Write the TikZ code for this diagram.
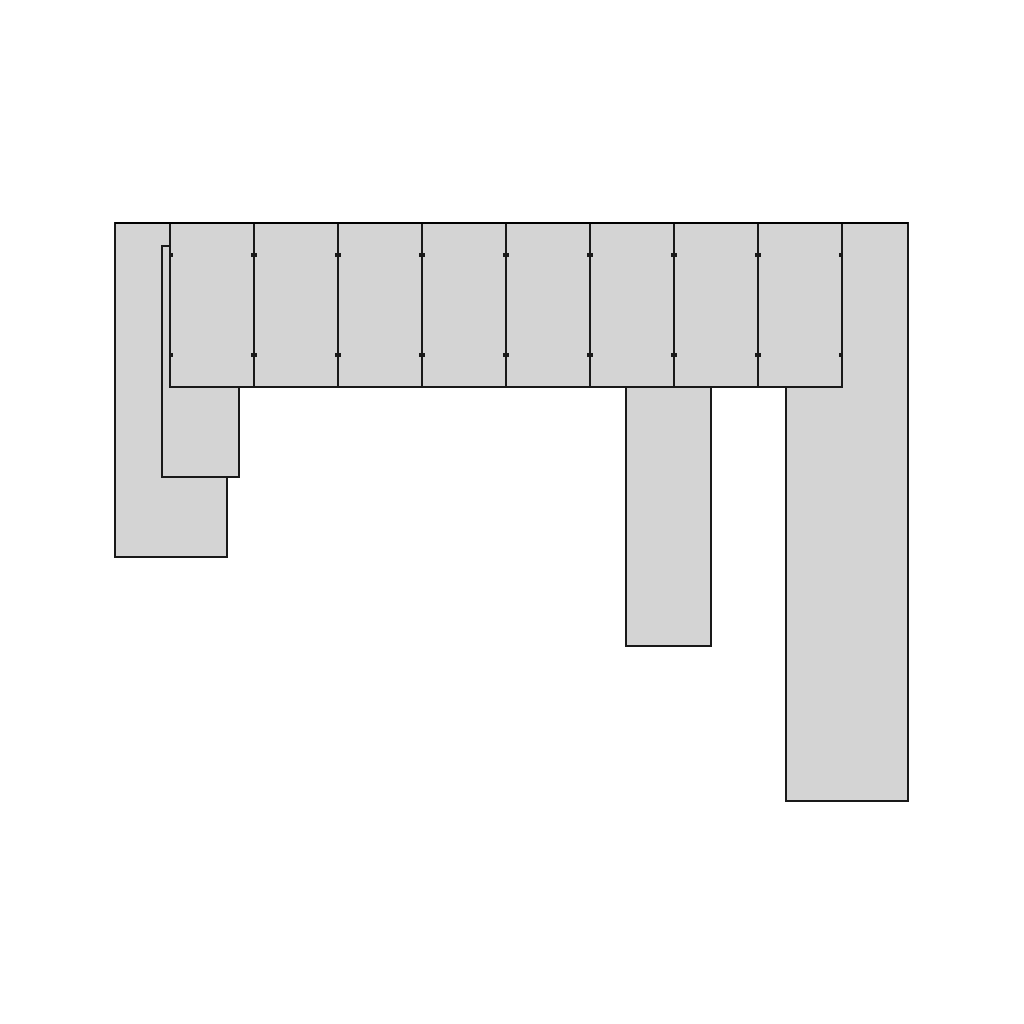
\documentclass[tikz,border=0pt]{standalone}
\usepackage{tikz}

\begin{document}
\begin{tikzpicture}[
			x=0.01cm, y=-0.01cm,
			every path/.style={line width=0.6pt},
			unit/.style={draw=black!90, fill=black!17},
			hinge/.style={line width=1.1pt, black!90}
		]
		\useasboundingbox (0,0) rectangle (1024,1024);

		% tall side units (back layer)
		\draw[unit] (115,223) rectangle (227,557);
		\draw[unit] (162,246) rectangle (239,477);
		\draw[unit] (786,223) rectangle (908,801);
		\draw[unit] (626,387) rectangle (711,646);

		% draw 8 wall cabinets with hinge marks
		\foreach \i in {0,...,7} {
				\draw[unit] (170+84*\i,223) rectangle ++(84,164);
				\foreach \y in {255,355} {
						\draw[hinge] (170+84*\i,\y) -- ++(3,0);
						\draw[hinge] (254+84*\i,\y) -- ++(-3,0);
					}
			}

		% top edge
		\draw (115,223) -- (908,223);

	\end{tikzpicture}
\end{document}
